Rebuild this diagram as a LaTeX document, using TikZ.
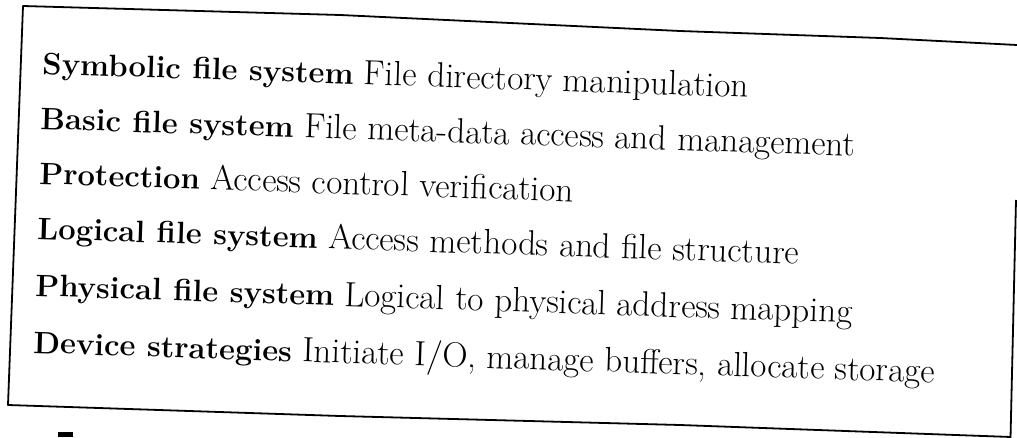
\documentclass[tikz,border=0pt]{standalone}
\newcommand\layername[1]{{\fontsize{31}{36}\selectfont\bfseries #1}}
\begin{document}
\begin{tikzpicture}[x=1pt,y=-1pt,
  frame/.style={line width=1.8pt,line join=round},
  layer/.style={anchor=base west,inner sep=0pt,rotate=-1.9,
    font=\fontsize{35}{40}\selectfont}]
\useasboundingbox (0,0) rectangle (1017,438);
% frame of the table (slightly skewed)
\coordinate (tl) at (23,6);
\coordinate (bl) at (8,405);
\coordinate (br) at (1011,437);
\coordinate (tr) at (1017,45);
\coordinate (rs) at (1016,200);
\coordinate (re) at (1010.5,438);
\draw[frame] (tr) -- (880,38) -- (680,31) -- (340,15) -- (tl) -- (bl) -- (340,416) -- (680,425) -- (br);
\draw[frame] (rs) -- (re);
% rows of the table
\node[layer] (r1) at (42,74)  {\layername{Symbolic file system} File directory manipulation};
\node[layer] (r2) at (40,129) {\layername{Basic file system} File meta-data access and management};
\node[layer] (r3) at (39,184) {\layername{Protection} Access control verification};
\node[layer] (r4) at (37,239) {\layername{Logical file system} Access methods and file structure};
\node[layer] (r5) at (35,296) {\layername{Physical file system} Logical to physical address mapping};
\node[layer] (r6) at (33,353) {\layername{Device strategies} Initiate I/O, manage buffers, allocate storage};
% stray mark below the frame
\fill (58,432) rectangle (73,437);
\end{tikzpicture}
\end{document}
